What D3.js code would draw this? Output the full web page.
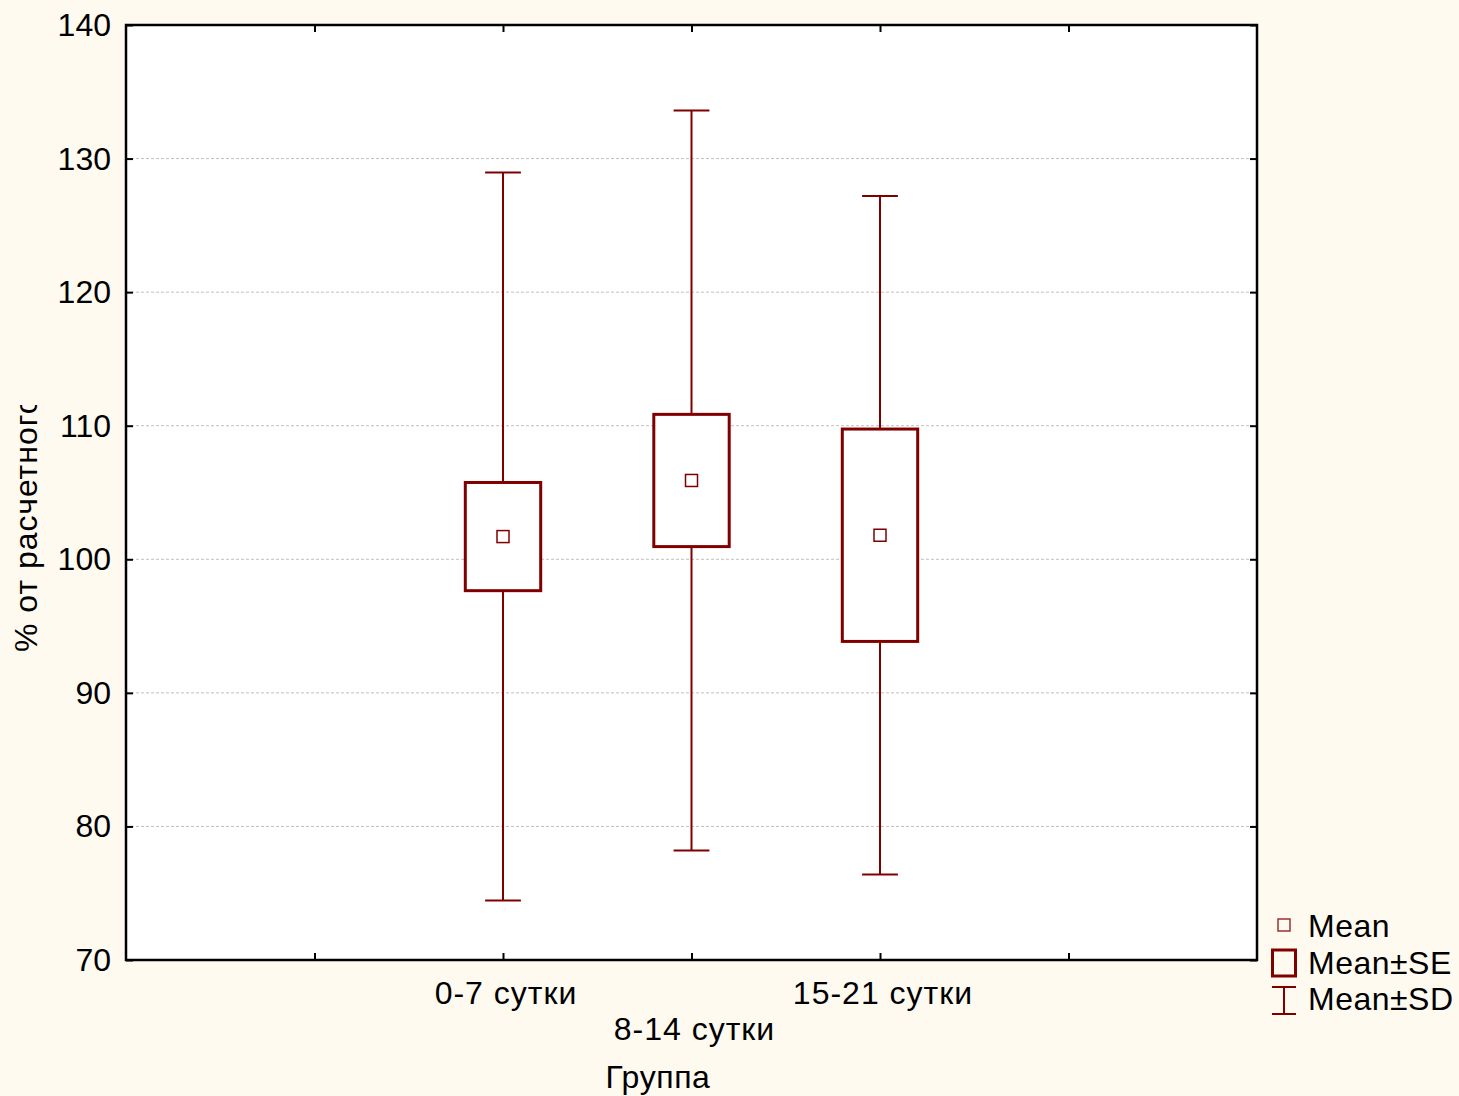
<!DOCTYPE html>
<html>
<head>
<meta charset="utf-8">
<script src="https://cdnjs.cloudflare.com/ajax/libs/d3/7.8.5/d3.min.js"></script>
<style>
  html, body { margin: 0; padding: 0; background: #fffaf0; }
  svg text { font-family: "Liberation Sans", Arial, sans-serif; fill: #000; }
</style>
</head>
<body>
<svg id="chart" width="1459" height="1096"></svg>
<script>
// data
var groups = ['0-7 сутки', '8-14 сутки', '15-21 сутки'];
var means  = [101.7, 105.9, 101.8];
var se     = [4.05, 4.95, 7.95];
var sd     = [27.25, 27.7, 25.4];
var yTicks = [70, 80, 90, 100, 110, 120, 130, 140];
var legendItems = ['Mean', 'Mean±SE', 'Mean±SD'];

var plot = { left: 126, top: 25, right: 1257, bottom: 960 };
var red = '#800000';
var fontSize = 32;

var svg = d3.select('#chart');

/**
 * Scales
 */
var x = d3.scaleLinear().domain([0, groups.length + 3]).range([plot.left, plot.right]);
var y = d3.scaleLinear().domain([70, 140]).range([plot.bottom, plot.top]);
function gx(i) { return x(i + 2); }

// plot background
svg.append('rect')
  .attr('x', plot.left).attr('y', plot.top)
  .attr('width', plot.right - plot.left)
  .attr('height', plot.bottom - plot.top)
  .attr('fill', '#fff');

// grid
svg.append('g')
  .selectAll('line')
  .data(yTicks.filter(function (t) { return t > 70 && t < 140; }))
  .enter()
  .append('line')
  .attr('x1', plot.left).attr('x2', plot.right)
  .attr('y1', function (d) { return y(d); })
  .attr('y2', function (d) { return y(d); })
  .attr('stroke', '#c0c0c0')
  .attr('stroke-width', 1)
  .attr('stroke-dasharray', '3,2');

//////////
// AXES (ticks inward on all four sides)
var tickLen = 7;
var xTickVals = d3.range(1, groups.length + 3);

var axisLeft = d3.axisRight(y).tickValues(yTicks).tickSize(tickLen).tickFormat('');
var axisRight = d3.axisLeft(y).tickValues(yTicks).tickSize(tickLen).tickFormat('');
var axisBottom = d3.axisTop(x).tickValues(xTickVals).tickSize(tickLen).tickFormat('');
var axisTop = d3.axisBottom(x).tickValues(xTickVals).tickSize(tickLen).tickFormat('');

[
  [axisLeft, 'translate(' + plot.left + ',0)'],
  [axisRight, 'translate(' + plot.right + ',0)'],
  [axisBottom, 'translate(0,' + plot.bottom + ')'],
  [axisTop, 'translate(0,' + plot.top + ')']
].forEach(function (a) {
  var g = svg.append('g').attr('transform', a[1]).call(a[0]);
  g.select('.domain').remove();
  g.selectAll('line').attr('stroke', '#000').attr('stroke-width', 2);
});

// frame
svg.append('rect')
  .attr('x', plot.left).attr('y', plot.top)
  .attr('width', plot.right - plot.left)
  .attr('height', plot.bottom - plot.top)
  .attr('fill', 'none')
  .attr('stroke', '#000')
  .attr('stroke-width', 2.5);

// y tick labels
svg.append('g')
  .selectAll('text')
  .data(yTicks)
  .enter()
  .append('text')
  .attr('x', 111)
  .attr('y', function (d) { return y(d) + 11; })
  .attr('text-anchor', 'end')
  .style('font-size', fontSize + 'px')
  .text(function (d) { return d; });

// x tick labels, staggered
svg.append('g')
  .selectAll('text')
  .data(groups)
  .enter()
  .append('text')
  .attr('x', function (d, i) { return gx(i) + 3; })
  .attr('y', function (d, i) { return i % 2 ? 1040 : 1004; })
  .attr('text-anchor', 'middle')
  .style('font-size', fontSize + 'px')
  .style('letter-spacing', '1px')
  .text(function (d) { return d; });

// axis titles
svg.append('text')
  .attr('x', 658).attr('y', 1088)
  .attr('text-anchor', 'middle')
  .style('font-size', fontSize + 'px')
  .style('letter-spacing', '0.6px')
  .text('Группа');

// the y title is cut off in the original, keep that
svg.append('clipPath').attr('id', 'ylab-clip')
  .append('rect').attr('x', 0).attr('y', 405).attr('width', 60).attr('height', 300);

svg.append('g').attr('clip-path', 'url(#ylab-clip)')
  .append('text')
  .attr('transform', 'translate(37,652) rotate(-90)')
  .style('font-size', fontSize + 'px')
  .style('letter-spacing', '1px')
  .text('% от расчетного');

//////////
// BOXES
var boxW = x(0.4) - x(0);
var capW = x(0.19) - x(0);
var markS = 12;

var box = svg.append('g')
  .selectAll('g.grp')
  .data(groups.map(function (g, i) {
    return { name: g, i: i, mean: means[i], se: se[i], sd: sd[i] };
  }))
  .enter()
  .append('g')
  .attr('class', 'grp');

// whiskers
box.append('line')
  .attr('x1', function (d) { return gx(d.i); })
  .attr('x2', function (d) { return gx(d.i); })
  .attr('y1', function (d) { return y(d.mean + d.sd); })
  .attr('y2', function (d) { return y(d.mean - d.sd); })
  .attr('stroke', red).attr('stroke-width', 2);

[1, -1].forEach(function (s) {
  box.append('line')
    .attr('x1', function (d) { return gx(d.i) - capW / 2; })
    .attr('x2', function (d) { return gx(d.i) + capW / 2; })
    .attr('y1', function (d) { return y(d.mean + s * d.sd); })
    .attr('y2', function (d) { return y(d.mean + s * d.sd); })
    .attr('stroke', red).attr('stroke-width', 2);
});

// SE box
box.append('rect')
  .attr('x', function (d) { return gx(d.i) - boxW / 2; })
  .attr('y', function (d) { return y(d.mean + d.se); })
  .attr('width', boxW)
  .attr('height', function (d) { return y(d.mean - d.se) - y(d.mean + d.se); })
  .attr('fill', '#fff')
  .attr('stroke', red).attr('stroke-width', 3);

// mean marker
box.append('rect')
  .attr('x', function (d) { return gx(d.i) - markS / 2; })
  .attr('y', function (d) { return y(d.mean) - markS / 2; })
  .attr('width', markS).attr('height', markS)
  .attr('fill', '#fff')
  .attr('stroke', red).attr('stroke-width', 1.5);

//////////
// LEGEND
var leg = svg.append('g');
var lx = 1284;

leg.append('rect')
  .attr('x', lx - 6).attr('y', 919).attr('width', 12).attr('height', 12)
  .attr('fill', 'none').attr('stroke', red).attr('stroke-width', 1.5).attr('opacity', 0.8);

leg.append('rect')
  .attr('x', lx - 11.5).attr('y', 950).attr('width', 23).attr('height', 26)
  .attr('fill', 'none').attr('stroke', red).attr('stroke-width', 3);

leg.append('path')
  .attr('d', 'M' + (lx - 12) + ',987H' + (lx + 12) + 'M' + lx + ',987V1014M' + (lx - 12) + ',1014H' + (lx + 12))
  .attr('fill', 'none').attr('stroke', red).attr('stroke-width', 2);

leg.selectAll('text')
  .data(legendItems)
  .enter()
  .append('text')
  .attr('x', 1308)
  .attr('y', function (d, i) { return 937 + i * 36.5; })
  .style('font-size', fontSize + 'px')
  .style('letter-spacing', '0.5px')
  .text(function (d) { return d; });
</script>
</body>
</html>
